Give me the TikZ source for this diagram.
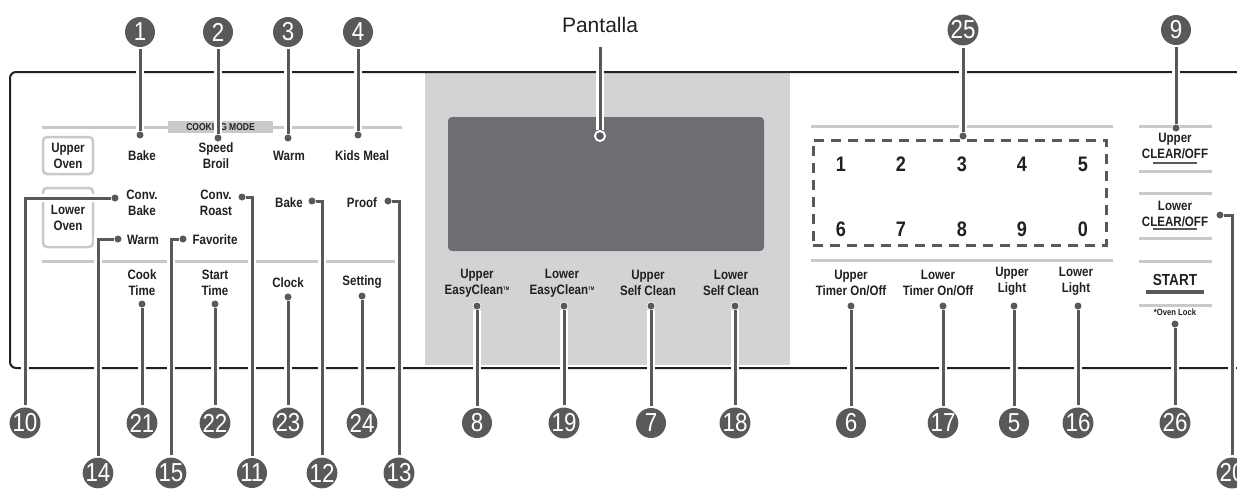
\documentclass[tikz,border=0pt]{standalone}
\usepackage{fontspec}
\setmainfont{Liberation Sans}
\newfontfamily\lblf[FakeStretch=0.85]{Liberation Sans}
\newfontfamily\numf[FakeStretch=0.86]{Liberation Sans}
\definecolor{ink}{HTML}{231F20}
\definecolor{ldr}{HTML}{58595B}
\definecolor{sep}{HTML}{C8C9CB}
\definecolor{garea}{HTML}{D1D3D4}
\definecolor{disp}{HTML}{6D6E71}
\tikzset{
  lbl/.style={font={\lblf\bfseries\fontsize{13.6}{16}\selectfont}, align=center, inner sep=0pt, text=ink},
  callout/.style={circle, fill=ldr, text=white, inner sep=0pt, minimum size=30pt, font={\numf\fontsize{26}{26}\selectfont}},
  dotnode/.style={circle, fill=ldr, draw=white, line width=1.5pt, inner sep=0pt, minimum size=7pt},
  leader/.style={draw=ldr, line width=3pt, preaction={draw=white, line width=8pt}, shorten <=2pt},
  sepline/.style={draw=sep, line width=3pt},
  ovenbox/.style={draw=sep, line width=2.5pt, rounded corners=4pt, minimum width=50pt, inner sep=0pt, align=center, font={\lblf\bfseries\fontsize{13.6}{16}\selectfont}, text=ink},
  keydigit/.style={font={\numf\bfseries\fontsize{21}{21}\selectfont}, inner sep=0pt, text=ink}
}
\begin{document}
\begin{tikzpicture}[x=1pt, y=-1pt]
\useasboundingbox (0,0) rectangle (1237,488);
% gray display area
\fill[garea] (425,73) rectangle (790,365);
\fill[disp, rounded corners=4pt] (448,117) rectangle (764,251);
% panel outline
\draw[ink, line width=2pt, rounded corners=6pt] (1240,72) -- (10,72) -- (10,368) -- (1240,368);
% separator lines
\draw[sepline] (42,127) -- (402,127);
\draw[sepline] (42,261) -- (395,261);
\draw[sepline] (811,126) -- (1113,126);
\draw[sepline] (811,260) -- (1113,260);
\foreach \yy in {126,171,193,238,261,305} \draw[sepline] (1139,\yy) -- (1212,\yy);
\node[fill=sep, minimum width=105pt, minimum height=12pt, inner sep=0pt, font={\lblf\bfseries\fontsize{10}{10}\selectfont}, text=ink] (cm) at (220.5,127) {COOKING MODE};
% oven boxes
\node[ovenbox, minimum height=37pt] (uo) at (68,155.5) {Upper\\Oven};
\node[ovenbox, minimum height=59pt] (lo) at (68,217.5) {Lower\\Oven};
% labels left
\node[lbl] (tbake) at (142,156) {Bake};
\node[lbl] (tspeed) at (216,156) {Speed\\Broil};
\node[lbl] (twarm) at (289,156) {Warm};
\node[lbl] (tkids) at (362,156) {Kids Meal};
\node[lbl] (tcbake) at (142,203) {Conv.\\Bake};
\node[lbl] (tcroast) at (216,203) {Conv.\\Roast};
\node[lbl] (tbake2) at (289,203) {Bake};
\node[lbl] (tproof) at (362,203) {Proof};
\node[lbl] (twarm2) at (143,240) {Warm};
\node[lbl] (tfav) at (215,240) {Favorite};
\node[lbl] (tcook) at (142,283) {Cook\\Time};
\node[lbl] (tstart) at (215,283) {Start\\Time};
\node[lbl] (tclock) at (288,283) {Clock};
\node[lbl] (tset) at (362,282) {Setting};
% labels middle
\node[lbl] (tuec) at (477,283) {Upper\\EasyClean\raisebox{4pt}{\fontsize{5}{5}\selectfont TM}};
\node[lbl] (tlec) at (562,283) {Lower\\EasyClean\raisebox{4pt}{\fontsize{5}{5}\selectfont TM}};
\node[lbl] (tusc) at (648,283) {Upper\\Self Clean};
\node[lbl] (tlsc) at (731,283) {Lower\\Self Clean};
\node[font={\fontsize{21}{21}\selectfont}, inner sep=0pt, text=ink] (pant) at (600,25) {Pantalla};
% labels right
\node[lbl] (tut) at (851,283) {Upper\\Timer On/Off};
\node[lbl] (tlt) at (938,283) {Lower\\Timer On/Off};
\node[lbl] (tul) at (1012,281) {Upper\\Light};
\node[lbl] (tll) at (1076,281) {Lower\\Light};
\node[lbl] (tuclr) at (1175,146) {Upper\\CLEAR/OFF};
\node[lbl] (tlclr) at (1175,214) {Lower\\CLEAR/OFF};
\node[lbl, font={\lblf\bfseries\fontsize{16}{16}\selectfont}] (tstartb) at (1175,280) {START};
\node[lbl, font={\lblf\bfseries\fontsize{9}{9}\selectfont}] (tlock) at (1175,312) {*Oven Lock};
\draw[ldr, line width=2pt] (1153,162.5) -- (1197,162.5);
\draw[ldr, line width=2pt] (1153,228.5) -- (1197,228.5);
\draw[ldr, line width=3.5pt] (1146,292) -- (1204,292);
% keypad
\node[draw=ldr, line width=3pt, dash pattern=on 10pt off 7pt, minimum width=293pt, minimum height=105pt, inner sep=0pt] (kp) at (959.5,192.5) {};
\foreach \d/\x in {1/841,2/901,3/962,4/1022,5/1083} \node[keydigit] (ka\d) at (\x,164) {\d};
\foreach \d/\x in {6/841,7/901,8/962,9/1022,0/1083} \node[keydigit] (kb\d) at (\x,229) {\d};
% callouts
\foreach \n/\x/\y in {1/140/32,2/218/32,3/288/32,4/358/32,25/963/30,9/1176/30,
  10/25/423,21/142/423,22/215/423,23/288/423,24/362/423,8/477/423,19/564/423,7/651/423,18/735/423,
  6/851/423,17/943/423,5/1014/423,16/1078/423,26/1175/423,
  14/98/473,15/171/473,11/252/473,12/322/473,13/399/473,20/1232/473}
  \node[callout] (c\n) at (\x,\y) {\n};
% dots
\foreach \n/\x/\y in {1/140/135,2/218/138,3/288/138,4/358/135,25/963/136,9/1176/128,
  10/115/198,11/242/197,12/312/201,13/388/201,14/118/239,15/183/239,20/1220/215,
  21/142/304,22/215/304,23/288/297,24/362/296,8/477/306,19/564/306,7/651/306,18/735/306,
  6/851/306,17/943/306,5/1014/306,16/1078/306,26/1175/324}
  \node[dotnode] (d\n) at (\x,\y) {};
\node[circle, fill=ldr, draw=white, line width=2pt, inner sep=0pt, minimum size=10pt] (dp) at (600,136) {};
% leaders
\foreach \n in {1,2,3,4,25,9,21,22,23,24,8,19,7,18,6,17,5,16,26}
  \draw[leader] (c\n) -- (d\n);
\foreach \n in {10,11,12,13,14,15,20}
  \draw[leader] (c\n) |- (d\n);
\draw[leader, shorten <=14pt] (pant.south) -- (dp);
% dot centres on top of the leaders
\foreach \n in {1,2,3,4,25,9,10,11,12,13,14,15,20,21,22,23,24,8,19,7,18,6,17,5,16,26}
  \fill[ldr] (d\n.center) circle (3.5pt);
\end{tikzpicture}
\end{document}
